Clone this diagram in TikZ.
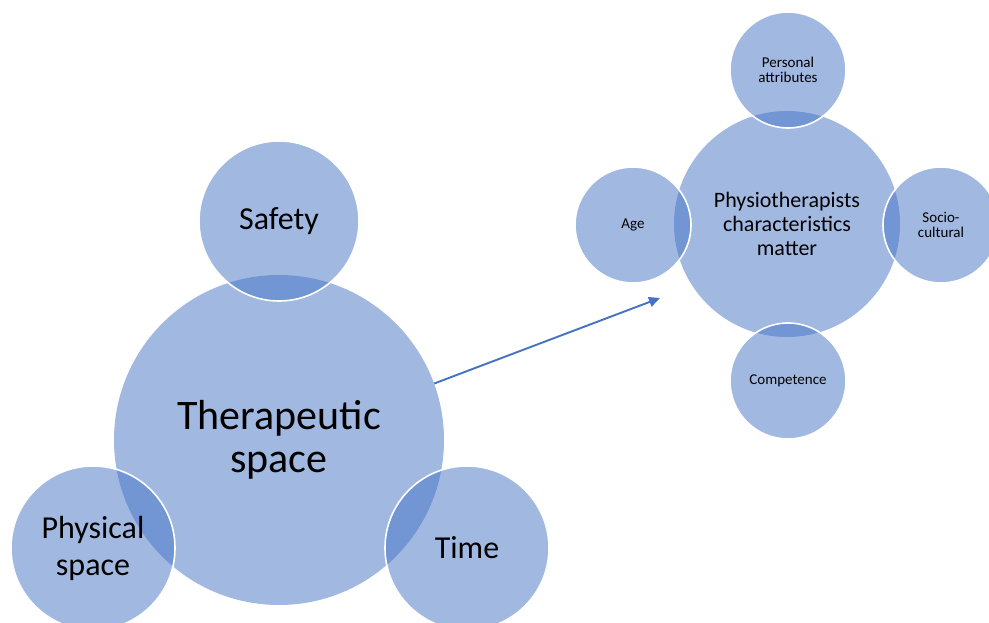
\documentclass[tikz,border=0pt]{standalone}
\usepackage{fontspec}
\setmainfont{Carlito}
\usetikzlibrary{arrows.meta}
\definecolor{acc}{HTML}{4472C4}
\definecolor{txt}{HTML}{000000}
\tikzset{
  bub/.style={circle, inner sep=0pt, fill=acc, fill opacity=0.5, text opacity=1,
    text=txt, align=center, minimum size=#1},
  sat/.style={bub=#1, draw=white, draw opacity=1, line width=1.6pt},
  hugefont/.style={font=\fontsize{42}{43}\selectfont},
  bigfont/.style={font=\fontsize{32}{37}\selectfont},
  midfont/.style={font=\fontsize{22}{24}\selectfont},
  smallfont/.style={font=\fontsize{15}{15.5}\selectfont},
  arr/.style={draw=acc, line width=1.9pt, -{Triangle[length=11pt,width=10pt]}}
}
\begin{document}
\begin{tikzpicture}[x=1pt,y=1pt]
\useasboundingbox (0,0) rectangle (989,622);
% left cluster
\node[bub=330pt, hugefont] (main) at (279,182) {Therapeutic\\space};
\node[sat=160pt, bigfont] (safety) at (279,401) {Safety};
\node[sat=164pt, bigfont] (phys) at (93,74) {Physical\\space};
\node[sat=164pt, bigfont] (time) at (467,74) {Time};
% right cluster
\node[bub=226pt, midfont] (physio) at (787,398) {Physiotherapists\\characteristics\\matter};
\node[sat=116pt, smallfont] (pers) at (788,552) {Personal\\attributes};
\node[sat=116pt, smallfont] (age) at (633,397) {Age};
\node[sat=116pt, smallfont] (socio) at (941,397) {Socio-\\cultural};
\node[sat=116pt, smallfont] (comp) at (788,241) {Competence};
% connector
\coordinate (tip) at (660,324);
\draw[arr] (main.20) -- (tip);
\end{tikzpicture}
\end{document}
